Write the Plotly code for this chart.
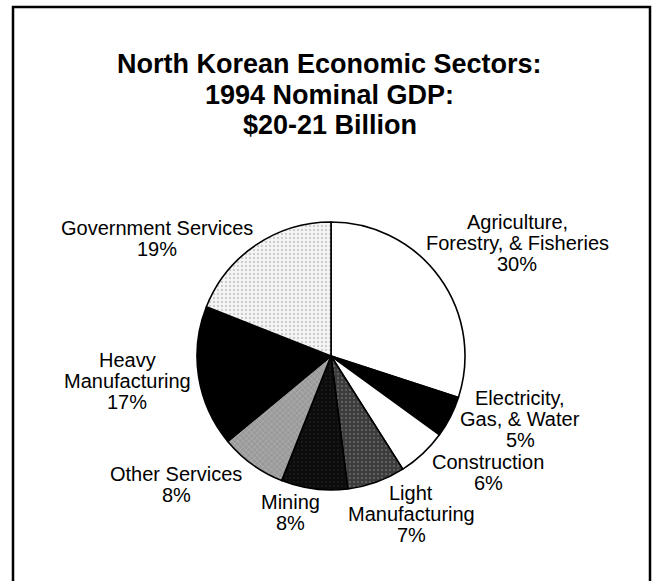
import plotly.graph_objects as go

# sectors clockwise from 12 o'clock
sectors = ['Agriculture, Forestry, & Fisheries', 'Electricity, Gas, & Water', 'Construction',
           'Light Manufacturing', 'Mining', 'Other Services', 'Heavy Manufacturing',
           'Government Services']
shares = [30, 5, 6, 7, 8, 8, 17, 19]
label_lines = [
    ['Agriculture,', 'Forestry, & Fisheries'],
    ['Electricity,', 'Gas, & Water'],
    ['Construction'],
    ['Light', 'Manufacturing'],
    ['Mining'],
    ['Other Services'],
    ['Heavy', 'Manufacturing'],
    ['Government Services'],
]
title_lines = ['North Korean Economic Sectors:', '1994 Nominal GDP:', '$20-21 Billion']

slice_colors = ['#ffffff', '#000000', '#ffffff', '#3c3c3c', '#0c0c0c', '#9a9a9a', '#000000', '#f4f4f4']
# scanned halftone look
pattern_shapes = ['', '', '', '.', '.', 'x', '', '.']
pattern_fg = ['black', 'black', 'black', '#9a9a9a', '#2e2e2e', '#e0e0e0', 'black', '#8a8a8a']

W, H = 655, 581
FONT = 'Liberation Sans, Arial, Helvetica, sans-serif'


def px(x):
    return x / W


def py(y):
    return 1 - y / H


# first-line centre of each label block (pixels)
label_pos = [(517, 222), (520, 398), (488, 462), (411, 493),
             (290, 502), (176, 474), (127, 360), (157, 228)]

fig = go.Figure()

cx, cy, r = 331, 356, 134
fig.add_trace(go.Pie(labels=sectors, values=shares, sort=False, direction='clockwise',
                     rotation=0, textinfo='none', hoverinfo='label+percent',
                     marker=dict(colors=slice_colors, line=dict(color='black', width=1.6),
                                 pattern=dict(shape=pattern_shapes, fgcolor=pattern_fg,
                                              size=4, solidity=0.2, fillmode='overlay')),
                     domain=dict(x=[px(cx - r), px(cx + r)], y=[py(cy + r), py(cy - r)]),
                     showlegend=False))

annotations = []
for lines, val, (lx, ly) in zip(label_lines, shares, label_pos):
    for i, t in enumerate(lines + [f'{val}%']):
        annotations.append(dict(text=t, x=px(lx), y=py(ly + 21 * i),
                                xref='paper', yref='paper', showarrow=False,
                                xanchor='center', yanchor='middle',
                                font=dict(family=FONT, size=20, color='black')))

for i, t in enumerate(title_lines):
    annotations.append(dict(text=f'<b>{t}</b>', x=px(330), y=py(64 + 30.5 * i),
                            xref='paper', yref='paper', showarrow=False,
                            xanchor='center', yanchor='middle',
                            font=dict(family=FONT, size=27, color='black')))

# scanned frame, bottom edge runs off the page
fig.add_shape(type='rect', xref='paper', yref='paper',
              x0=px(13), x1=px(650), y0=-0.05, y1=py(7),
              line=dict(color='black', width=2.5))

fig.update_layout(width=W, height=H, margin=dict(l=0, r=0, t=0, b=0),
                  paper_bgcolor='white', plot_bgcolor='white',
                  annotations=annotations)

# drop the default body margin so the figure fills the window exactly
fig.write_html('out.html', config={'displayModeBar': False},
               post_script="document.body.style.margin='0';document.body.style.overflow='hidden';")
